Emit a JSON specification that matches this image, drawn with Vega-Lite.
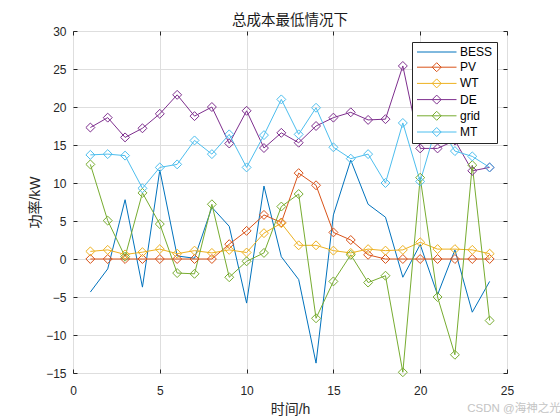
{
  "$schema": "https://vega.github.io/schema/vega-lite/v6.json",
  "description": "总成本最低情况下 - power of each unit per hour",
  "autosize": "none",
  "width": 434,
  "height": 342,
  "padding": {"left": 73, "top": 31, "right": 53, "bottom": 47},
  "background": "white",
  "title": {
    "text": "总成本最低情况下",
    "font": "Liberation Sans, Noto Sans CJK SC",
    "fontSize": 14.5,
    "fontWeight": "normal",
    "color": "#1a1a1a",
    "baseline": "alphabetic",
    "frame": "group",
    "offset": 7,
    "dy": 21
  },
  "config": {
    "view": {"stroke": "#262626", "strokeWidth": 1},
    "axis": {
      "domain": false,
      "grid": true,
      "gridColor": "#dedede",
      "gridWidth": 1,
      "tickColor": "#262626",
      "tickSize": -4,
      "labelFont": "Liberation Sans",
      "labelFontSize": 12,
      "labelColor": "#262626",
      "labelFlush": false,
      "titleFont": "Liberation Sans, Noto Sans CJK SC",
      "titleFontSize": 14,
      "titleFontWeight": "normal",
      "titleColor": "#262626"
    }
  },
  "data": {
    "values": [
      {"h": 1, "s": "BESS", "v": -4.35}, {"h": 2, "s": "BESS", "v": -1.3}, {"h": 3, "s": "BESS", "v": 7.8}, {"h": 4, "s": "BESS", "v": -3.7},
      {"h": 5, "s": "BESS", "v": 11.7}, {"h": 6, "s": "BESS", "v": 0.4}, {"h": 7, "s": "BESS", "v": 0.1}, {"h": 8, "s": "BESS", "v": 6.8},
      {"h": 9, "s": "BESS", "v": 4.3}, {"h": 10, "s": "BESS", "v": -5.8}, {"h": 11, "s": "BESS", "v": 9.6}, {"h": 12, "s": "BESS", "v": 0.3},
      {"h": 13, "s": "BESS", "v": -2.7}, {"h": 14, "s": "BESS", "v": -13.7}, {"h": 15, "s": "BESS", "v": 5.8}, {"h": 16, "s": "BESS", "v": 13.0},
      {"h": 17, "s": "BESS", "v": 7.2}, {"h": 18, "s": "BESS", "v": 5.5}, {"h": 19, "s": "BESS", "v": -2.4}, {"h": 20, "s": "BESS", "v": 1.9},
      {"h": 21, "s": "BESS", "v": -4.7}, {"h": 22, "s": "BESS", "v": 1.2}, {"h": 23, "s": "BESS", "v": -7.0}, {"h": 24, "s": "BESS", "v": -2.95},

      {"h": 1, "s": "PV", "v": 0}, {"h": 2, "s": "PV", "v": 0}, {"h": 3, "s": "PV", "v": 0}, {"h": 4, "s": "PV", "v": 0},
      {"h": 5, "s": "PV", "v": 0}, {"h": 6, "s": "PV", "v": 0}, {"h": 7, "s": "PV", "v": 0}, {"h": 8, "s": "PV", "v": 0},
      {"h": 9, "s": "PV", "v": 1.95}, {"h": 10, "s": "PV", "v": 3.7}, {"h": 11, "s": "PV", "v": 5.8}, {"h": 12, "s": "PV", "v": 4.8},
      {"h": 13, "s": "PV", "v": 11.3}, {"h": 14, "s": "PV", "v": 9.7}, {"h": 15, "s": "PV", "v": 3.5}, {"h": 16, "s": "PV", "v": 2.5},
      {"h": 17, "s": "PV", "v": 0.55}, {"h": 18, "s": "PV", "v": 0}, {"h": 19, "s": "PV", "v": 0}, {"h": 20, "s": "PV", "v": 0},
      {"h": 21, "s": "PV", "v": 0}, {"h": 22, "s": "PV", "v": 0}, {"h": 23, "s": "PV", "v": 0}, {"h": 24, "s": "PV", "v": 0},

      {"h": 1, "s": "WT", "v": 1.0}, {"h": 2, "s": "WT", "v": 1.2}, {"h": 3, "s": "WT", "v": 0.6}, {"h": 4, "s": "WT", "v": 0.9},
      {"h": 5, "s": "WT", "v": 1.3}, {"h": 6, "s": "WT", "v": 0.7}, {"h": 7, "s": "WT", "v": 1.1}, {"h": 8, "s": "WT", "v": 0.8},
      {"h": 9, "s": "WT", "v": 1.2}, {"h": 10, "s": "WT", "v": 0.85}, {"h": 11, "s": "WT", "v": 3.4}, {"h": 12, "s": "WT", "v": 4.7},
      {"h": 13, "s": "WT", "v": 1.8}, {"h": 14, "s": "WT", "v": 1.8}, {"h": 15, "s": "WT", "v": 1.1}, {"h": 16, "s": "WT", "v": 0.8},
      {"h": 17, "s": "WT", "v": 1.3}, {"h": 18, "s": "WT", "v": 1.1}, {"h": 19, "s": "WT", "v": 1.2}, {"h": 20, "s": "WT", "v": 2.2},
      {"h": 21, "s": "WT", "v": 1.3}, {"h": 22, "s": "WT", "v": 1.3}, {"h": 23, "s": "WT", "v": 1.2}, {"h": 24, "s": "WT", "v": 0.7},

      {"h": 1, "s": "DE", "v": 17.3}, {"h": 2, "s": "DE", "v": 18.6}, {"h": 3, "s": "DE", "v": 16.0}, {"h": 4, "s": "DE", "v": 17.2},
      {"h": 5, "s": "DE", "v": 19.1}, {"h": 6, "s": "DE", "v": 21.6}, {"h": 7, "s": "DE", "v": 18.8}, {"h": 8, "s": "DE", "v": 20.0},
      {"h": 9, "s": "DE", "v": 15.2}, {"h": 10, "s": "DE", "v": 19.5}, {"h": 11, "s": "DE", "v": 14.6}, {"h": 12, "s": "DE", "v": 16.6},
      {"h": 13, "s": "DE", "v": 15.3}, {"h": 14, "s": "DE", "v": 17.5}, {"h": 15, "s": "DE", "v": 18.6}, {"h": 16, "s": "DE", "v": 19.3},
      {"h": 17, "s": "DE", "v": 18.3}, {"h": 18, "s": "DE", "v": 18.4}, {"h": 19, "s": "DE", "v": 25.4}, {"h": 20, "s": "DE", "v": 14.55},
      {"h": 21, "s": "DE", "v": 14.55}, {"h": 22, "s": "DE", "v": 15.6}, {"h": 23, "s": "DE", "v": 11.6}, {"h": 24, "s": "DE", "v": 12.05},

      {"h": 1, "s": "grid", "v": 12.45}, {"h": 2, "s": "grid", "v": 5.05}, {"h": 3, "s": "grid", "v": 0.3}, {"h": 4, "s": "grid", "v": 8.7},
      {"h": 5, "s": "grid", "v": 4.6}, {"h": 6, "s": "grid", "v": -1.85}, {"h": 7, "s": "grid", "v": -1.95}, {"h": 8, "s": "grid", "v": 7.2},
      {"h": 9, "s": "grid", "v": -2.4}, {"h": 10, "s": "grid", "v": -0.3}, {"h": 11, "s": "grid", "v": 0.8}, {"h": 12, "s": "grid", "v": 6.9},
      {"h": 13, "s": "grid", "v": 8.55}, {"h": 14, "s": "grid", "v": -7.8}, {"h": 15, "s": "grid", "v": -2.95}, {"h": 16, "s": "grid", "v": 0.55},
      {"h": 17, "s": "grid", "v": -3.1}, {"h": 18, "s": "grid", "v": -2.2}, {"h": 19, "s": "grid", "v": -14.9}, {"h": 20, "s": "grid", "v": 10.7},
      {"h": 21, "s": "grid", "v": -5.0}, {"h": 22, "s": "grid", "v": -12.6}, {"h": 23, "s": "grid", "v": 12.35}, {"h": 24, "s": "grid", "v": -8.1},

      {"h": 1, "s": "MT", "v": 13.7}, {"h": 2, "s": "MT", "v": 13.8}, {"h": 3, "s": "MT", "v": 13.6}, {"h": 4, "s": "MT", "v": 9.3},
      {"h": 5, "s": "MT", "v": 12.05}, {"h": 6, "s": "MT", "v": 12.45}, {"h": 7, "s": "MT", "v": 15.6}, {"h": 8, "s": "MT", "v": 13.8},
      {"h": 9, "s": "MT", "v": 16.4}, {"h": 10, "s": "MT", "v": 12.05}, {"h": 11, "s": "MT", "v": 16.3}, {"h": 12, "s": "MT", "v": 21.0},
      {"h": 13, "s": "MT", "v": 16.4}, {"h": 14, "s": "MT", "v": 19.9}, {"h": 15, "s": "MT", "v": 14.7}, {"h": 16, "s": "MT", "v": 13.2},
      {"h": 17, "s": "MT", "v": 13.8}, {"h": 18, "s": "MT", "v": 10.0}, {"h": 19, "s": "MT", "v": 17.9}, {"h": 20, "s": "MT", "v": 10.2},
      {"h": 21, "s": "MT", "v": 18.0}, {"h": 22, "s": "MT", "v": 14.2}, {"h": 23, "s": "MT", "v": 13.5}, {"h": 24, "s": "MT", "v": 12.05}
    ]
  },
  "layer": [
    {
      "mark": {"type": "line", "strokeWidth": 1},
      "encoding": {
        "x": {
          "field": "h",
          "type": "quantitative",
          "scale": {"domain": [0, 25], "nice": false},
          "axis": {
            "orient": "bottom",
            "title": "时间/h",
            "values": [0, 5, 10, 15, 20, 25],
            "labelPadding": 16,
            "titlePadding": 6
          }
        },
        "y": {
          "field": "v",
          "type": "quantitative",
          "scale": {"domain": [-15, 30], "nice": false, "zero": false},
          "axis": {
            "orient": "left",
            "title": "功率/kW",
            "values": [-15, -10, -5, 0, 5, 10, 15, 20, 25, 30],
            "labelPadding": 11,
            "titlePadding": 3
          }
        },
        "color": {
          "field": "s",
          "type": "nominal",
          "sort": null,
          "scale": {
            "domain": ["BESS", "PV", "WT", "DE", "grid", "MT"],
            "range": ["#0072BD", "#D95319", "#EDB120", "#7E2F8E", "#77AC30", "#4DBEEE"]
          },
          "legend": {
            "title": null,
            "orient": "none",
            "legendX": 339,
            "legendY": 11,
            "fillColor": "white",
            "strokeColor": "#262626",
            "padding": 4,
            "cornerRadius": 0,
            "rowPadding": 2.2,
            "symbolSize": 100,
            "symbolStrokeWidth": 1,
            "labelFont": "Liberation Sans",
            "labelFontSize": 12,
            "labelColor": "#000000",
            "labelOffset": 32,
            "encode": {
              "symbols": {
                "update": {
                  "shape": {"signal": "datum.value === 'BESS' ? 'M-1,0H6.9' : 'M-1,0H6.9M2.94,-0.9L3.84,0L2.94,0.9L2.04,0Z'"},
                  "fill": {"value": "transparent"},
                  "strokeWidth": {"value": 1}
                }
              }
            }
          }
        }
      }
    },
    {
      "transform": [{"filter": "datum.s !== 'BESS'"}],
      "mark": {"type": "point", "shape": "diamond", "filled": false, "size": 80, "strokeWidth": 1, "opacity": 1},
      "encoding": {
        "x": {
          "field": "h",
          "type": "quantitative",
          "axis": {"orient": "top", "title": null, "labels": false, "grid": false, "minExtent": 0, "maxExtent": 0, "values": [0, 5, 10, 15, 20, 25]}
        },
        "y": {
          "field": "v",
          "type": "quantitative",
          "axis": {"orient": "right", "title": null, "labels": false, "grid": false, "minExtent": 0, "maxExtent": 0, "values": [-15, -10, -5, 0, 5, 10, 15, 20, 25, 30]}
        },
        "color": {"field": "s", "type": "nominal", "legend": null}
      }
    },
    {
      "data": {"values": [{"x": 25.4, "y": -19.7, "t": "CSDN @海神之光"}]},
      "mark": {"type": "text", "font": "Liberation Sans, Noto Sans CJK SC", "fontSize": 11.5, "color": "#c4c4c4", "align": "center", "baseline": "middle"},
      "encoding": {
        "x": {"field": "x", "type": "quantitative", "axis": null},
        "y": {"field": "y", "type": "quantitative", "axis": null},
        "text": {"field": "t"}
      }
    }
  ],
  "resolve": {"axis": {"x": "independent", "y": "independent"}}
}
